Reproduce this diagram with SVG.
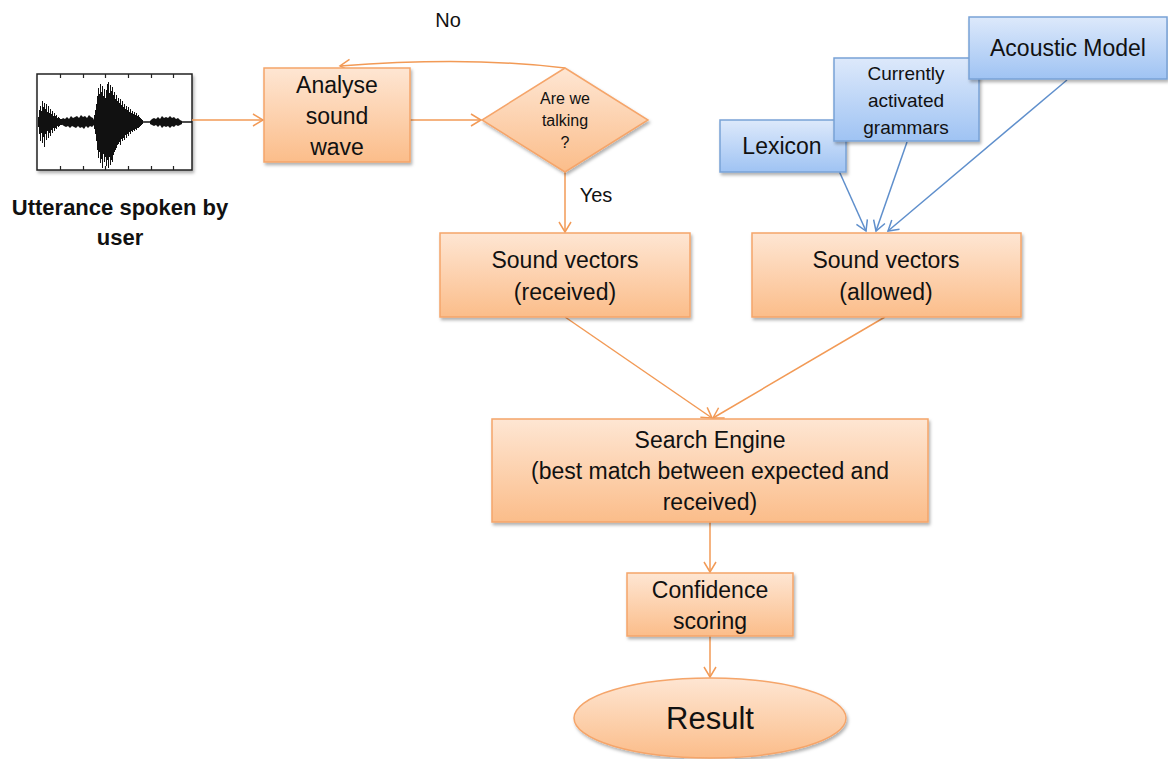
<svg xmlns="http://www.w3.org/2000/svg" width="1168" height="759" viewBox="0 0 1168 759">
  <defs>
    <linearGradient id="gOrange" x1="0" y1="0" x2="0" y2="1">
      <stop offset="0" stop-color="#fee6d3"/>
      <stop offset="1" stop-color="#fbbd8a"/>
    </linearGradient>
    <linearGradient id="gBlue" x1="0" y1="0" x2="0" y2="1">
      <stop offset="0" stop-color="#dde9fb"/>
      <stop offset="1" stop-color="#9fc3f3"/>
    </linearGradient>
    <filter id="shadow" x="-10%" y="-10%" width="130%" height="140%">
      <feDropShadow dx="1.5" dy="2.5" stdDeviation="1.5" flood-color="#000" flood-opacity="0.3"/>
    </filter>
    <marker id="arrOrange" markerWidth="14" markerHeight="14" refX="11" refY="7" orient="auto" markerUnits="userSpaceOnUse">
      <path d="M1,1 L11,7 L1,13" fill="none" stroke="#f29a56" stroke-width="1.5"/>
    </marker>
    <marker id="arrBlue" markerWidth="14" markerHeight="14" refX="11" refY="7" orient="auto" markerUnits="userSpaceOnUse">
      <path d="M1,1 L11,7 L1,13" fill="none" stroke="#5f8fcc" stroke-width="1.5"/>
    </marker>
    <style>
      .box { fill: url(#gOrange); stroke: #f5a56a; stroke-width: 1.5; filter: url(#shadow); }
      .bbox { fill: url(#gBlue); stroke: #78a2d6; stroke-width: 1.5; filter: url(#shadow); }
      .t { font-family: "Liberation Sans", Arial, sans-serif; font-size: 23px; fill: #111; text-anchor: middle; }
      .ts { font-size: 16px; }
      .tm { font-size: 19px; }
      .tl { font-size: 20px; }
      .tr { font-size: 31px; }
      .tb { font-weight: bold; font-size: 22px; }
      .oc { fill: none; stroke: #f29a56; stroke-width: 1.5; marker-end: url(#arrOrange); }
      .bc { fill: none; stroke: #5f8fcc; stroke-width: 1.5; marker-end: url(#arrBlue); }
      .wave { stroke: #111; stroke-width: 1; fill: none; }
    </style>
  </defs>

  <rect width="1168" height="759" fill="#ffffff"/>

  <!-- Waveform picture of the utterance -->
  <g id="utterance">
    <rect x="37" y="74" width="155" height="96" fill="#ffffff" stroke="#222" stroke-width="1.5" filter="url(#shadow)"/>
    <path d="M60.5,74v4M83.5,74v4M105.5,74v4M128.5,74v4M151.5,74v4M173.5,74v4M60.5,170v-4M83.5,170v-4M105.5,170v-4M128.5,170v-4M151.5,170v-4M173.5,170v-4" stroke="#222" stroke-width="1.2"/>
    <path class="wave" d="M38.5,117V127M39.5,110V134M40.5,106V141M41.5,111V133M42.5,101V143M43.5,107V137M44.5,103V147M45.5,109V134M46.5,104V140M47.5,112V131M48.5,106V138M49.5,113V133M50.5,109V136M51.5,114V130M52.5,111V133M53.5,116V128M54.5,113V131M55.5,116V128M56.5,115V129M57.5,118V126M58.5,117V127M59.5,118V126M60.5,119V125M61.5,119V125"/>
    <path d="M61,120 L63,118 L65,119 L67,117 L69,119 L71,116 L73,118 L75,117 L77,116 L79,118 L81,115 L83,117 L85,116 L87,118 L89,115 L91,117 L93,118 L94,120 L94,125 L92,127 L90,126 L88,128 L86,126 L84,129 L82,127 L80,128 L78,126 L76,128 L74,127 L72,126 L70,128 L68,126 L66,127 L64,126 L61,124 Z" fill="#111"/>
    <path class="wave" d="M94.5,115V129M95.5,110V134M96.5,104V141M97.5,96V150M98.5,88V158M99.5,94V152M100.5,84V163M101.5,92V159M102.5,86V168M103.5,96V154M104.5,89V162M105.5,98V157M106.5,90V166M107.5,84V160M108.5,82V168M109.5,93V157M110.5,85V165M111.5,91V160M112.5,87V162M113.5,95V155M114.5,92V152M115.5,99V150M116.5,95V148M117.5,101V145M118.5,98V144M119.5,103V142M120.5,99V145M121.5,105V139M122.5,101V141M123.5,107V138M124.5,104V140M125.5,109V135M126.5,106V138M127.5,110V134M128.5,107V136M129.5,112V132M130.5,109V134M131.5,113V131M132.5,111V132M133.5,114V130M134.5,112V131M135.5,115V129M136.5,113V130M137.5,116V128M138.5,115V128M139.5,117V127M140.5,118V126M141.5,119V125M142.5,120V124"/>
    <path d="M142,122H192" stroke="#111" stroke-width="1.5"/>
    <path d="M150,121 L152,119 L154,118 L156,119 L158,117 L160,119 L162,116 L164,118 L166,117 L168,118 L170,116 L172,118 L174,117 L176,119 L178,118 L180,120 L182,121 L182,124 L180,125 L178,126 L176,125 L174,127 L172,126 L170,128 L168,126 L166,127 L164,126 L162,128 L160,125 L158,127 L156,125 L154,126 L152,125 L150,124 Z" fill="#111"/>
    <text class="t tb" x="120" y="215">Utterance spoken by</text>
    <text class="t tb" x="120" y="245">user</text>
  </g>

  <!-- Connectors -->
  <g id="connectors">
    <path class="oc" d="M192,120 H263"/>
    <path class="oc" d="M410,120 H481"/>
    <path class="oc" d="M565,68 C500,60 420,60 340,66"/>
    <path class="oc" d="M565,172 V232"/>
    <path class="oc" d="M565,317 L712,418"/>
    <path class="oc" d="M885,317 L713,418"/>
    <path class="oc" d="M710,522 V572"/>
    <path class="oc" d="M710,636 V677"/>
    <path class="bc" d="M835,162 L866,231"/>
    <path class="bc" d="M907,142 L876,231"/>
    <path class="bc" d="M1067,80 L888,231"/>
  </g>

  <g id="label-no"><text class="t tl" x="448" y="27">No</text></g>
  <g id="label-yes"><text class="t tl" x="596" y="202">Yes</text></g>

  <g id="analyse">
    <rect class="box" x="264" y="68" width="146" height="94"/>
    <text class="t" x="337" y="93">Analyse</text>
    <text class="t" x="337" y="124">sound</text>
    <text class="t" x="337" y="155">wave</text>
  </g>

  <g id="decision">
    <path class="box" d="M565,68 L648,120 L565,172 L482,120 Z"/>
    <text class="t ts" x="565" y="104">Are we</text>
    <text class="t ts" x="565" y="126">talking</text>
    <text class="t ts" x="565" y="148">?</text>
  </g>

  <g id="received">
    <rect class="box" x="440" y="233" width="250" height="84"/>
    <text class="t" x="565" y="268">Sound vectors</text>
    <text class="t" x="565" y="300">(received)</text>
  </g>

  <g id="allowed">
    <rect class="box" x="752" y="233" width="269" height="84"/>
    <text class="t" x="886" y="268">Sound vectors</text>
    <text class="t" x="886" y="300">(allowed)</text>
  </g>

  <g id="lexicon">
    <rect class="bbox" x="720" y="120" width="126" height="52"/>
    <text class="t" x="782" y="154">Lexicon</text>
  </g>

  <g id="grammars">
    <rect class="bbox" x="834" y="58" width="145" height="83"/>
    <text class="t tm" x="906" y="80">Currently</text>
    <text class="t tm" x="906" y="107">activated</text>
    <text class="t tm" x="906" y="134">grammars</text>
  </g>

  <g id="acoustic">
    <rect class="bbox" x="969" y="17" width="198" height="62"/>
    <text class="t" x="1068" y="56">Acoustic Model</text>
  </g>

  <g id="search">
    <rect class="box" x="492" y="419" width="436" height="103"/>
    <text class="t" x="710" y="448">Search Engine</text>
    <text class="t" x="710" y="479">(best match between expected and</text>
    <text class="t" x="710" y="510">received)</text>
  </g>

  <g id="confidence">
    <rect class="box" x="627" y="573" width="166" height="63"/>
    <text class="t" x="710" y="598">Confidence</text>
    <text class="t" x="710" y="629">scoring</text>
  </g>

  <g id="result">
    <ellipse class="box" cx="710" cy="718" rx="136" ry="40"/>
    <text class="t tr" x="710" y="729">Result</text>
  </g>
</svg>
